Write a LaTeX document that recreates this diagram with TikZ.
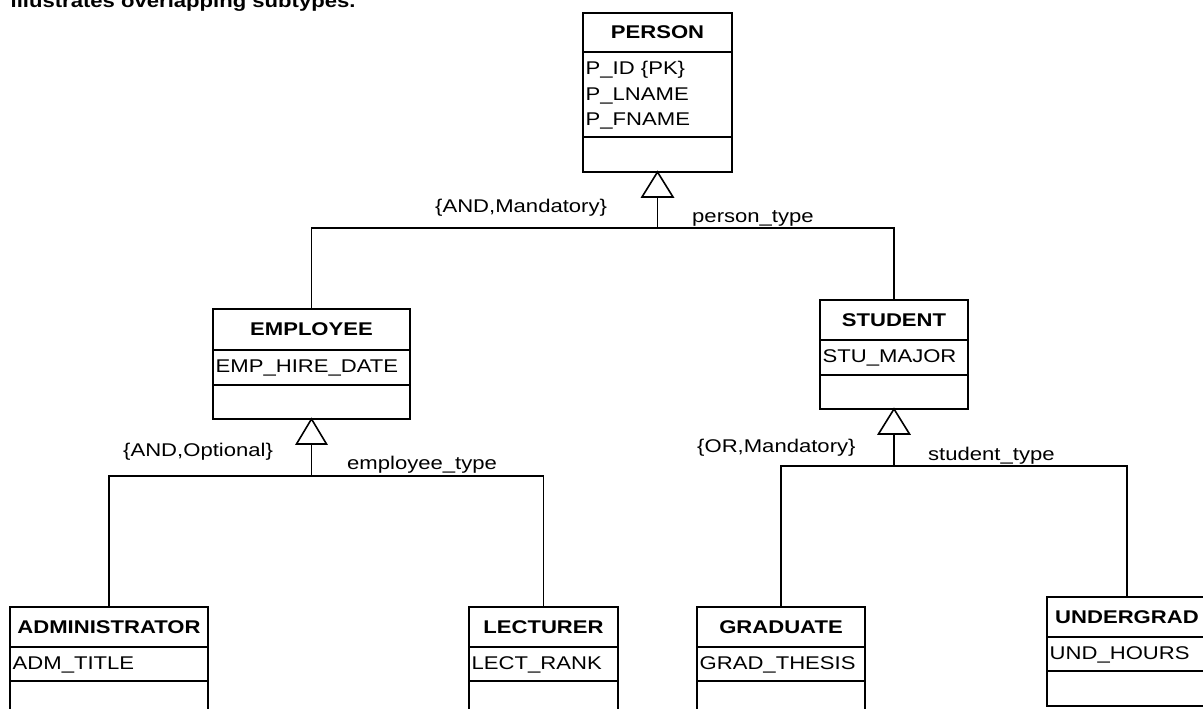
\documentclass[tikz,border=0pt]{standalone}
\usepackage{fontspec}
\setmainfont{Liberation Sans}
\usepackage{graphicx}
\newcommand{\sx}[1]{\scalebox{1.2}[1]{#1}}
\newcommand{\fsz}{\fontsize{18.4}{22}\selectfont}
% #1 name, #2 left, #3 right, #4 top, #5 header sep, #6 attr sep, #7 bottom, #8 title
\newcommand{\umlclass}[8]{%
  \node[box, minimum width={#3-#2}, minimum height={#7-#4}] (#1) at ({(#2+#3)/2},{(#4+#7)/2}) {};
  \draw[box] (#2,#5) -- (#3,#5);
  \draw[box] (#2,#6) -- (#3,#6);
  \node[hdr] (#1-title) at ({(#2+#3)/2},{(#4+#5)/2+6}) {\sx{#8}};
}
\begin{document}
\begin{tikzpicture}[x=1pt,y=-1pt,
  box/.style={draw, line width=1.6pt, inner sep=0pt, outer sep=0pt},
  conn/.style={line width=1.3pt},
  tri/.style={draw, line width=1.6pt, line join=miter, fill=white},
  hdr/.style={inner sep=0pt, anchor=base, font=\fsz\bfseries},
  attr/.style={inner sep=0pt, anchor=base west, font=\fsz},
  lbl/.style={inner sep=0pt, anchor=base west, font=\fsz}]
\useasboundingbox (0,0) rectangle (1203,709);
\clip (0,0) rectangle (1203,709);

% title (cut off at top)
\node[hdr, anchor=base west] (title) at (10.5,8) {\sx{illustrates overlapping subtypes.}};

% classes
\umlclass{person}{583}{732}{13}{52}{137}{172}{PERSON}
\node[attr] (p1) at (585.5,75) {\sx{P\_ID \{PK\}}};
\node[attr] (p2) at (585.5,100) {\sx{P\_LNAME}};
\node[attr] (p3) at (585.5,125) {\sx{P\_FNAME}};

\umlclass{employee}{213}{410}{309}{350}{385}{419}{EMPLOYEE}
\node[attr] (e1) at (215.5,372) {\sx{EMP\_HIRE\_DATE}};

\umlclass{student}{820}{968}{300}{340}{375}{409}{STUDENT}
\node[attr] (s1) at (822.5,362) {\sx{STU\_MAJOR}};

\umlclass{admin}{10}{208}{607}{647}{681}{722}{ADMINISTRATOR}
\node[attr] (a1) at (12.5,669) {\sx{ADM\_TITLE}};

\umlclass{lecturer}{469}{618}{607}{647}{681}{722}{LECTURER}
\node[attr] (l1) at (471.5,669) {\sx{LECT\_RANK}};

\umlclass{graduate}{697}{865}{607}{647}{681}{722}{GRADUATE}
\node[attr] (g1) at (699.5,669) {\sx{GRAD\_THESIS}};

\umlclass{undergrad}{1047}{1207}{597}{637}{671}{706}{UNDERGRAD}
\node[attr] (u1) at (1049.5,659) {\sx{UND\_HOURS}};

% generalization: person
\coordinate (ptb) at (657.5,197);
\coordinate (pj) at (657.5,228);
\draw[tri] (person.south) -- ++(-15.5,25) -- ++(31,0) -- cycle;
\draw[conn] (ptb) -- (pj);
\draw[conn] (employee.north) |- (pj) -| (student.north);
\node[lbl] (pc) at (435,212) {\sx{\{AND,Mandatory\}}};
\node[lbl] (pt) at (692,222) {\sx{person\_type}};

% generalization: employee
\coordinate (etb) at (311.5,444);
\coordinate (ej) at (311.5,476);
\draw[tri] (employee.south) -- ++(-15,25) -- ++(30,0) -- cycle;
\draw[conn] (etb) -- (ej);
\draw[conn] (admin.north) |- (ej) -| (lecturer.north);
\node[lbl] (ec) at (123,456) {\sx{\{AND,Optional\}}};
\node[lbl] (et) at (347,469) {\sx{employee\_type}};

% generalization: student
\coordinate (stb) at (894,434);
\coordinate (sj) at (894,466);
\draw[tri] (student.south) -- ++(-15.5,25) -- ++(31,0) -- cycle;
\draw[conn] (stb) -- (sj);
\draw[conn] (graduate.north) |- (sj) -| (undergrad.north);
\node[lbl] (sc) at (697,452) {\sx{\{OR,Mandatory\}}};
\node[lbl] (st) at (928,460) {\sx{student\_type}};
\end{tikzpicture}
\end{document}
